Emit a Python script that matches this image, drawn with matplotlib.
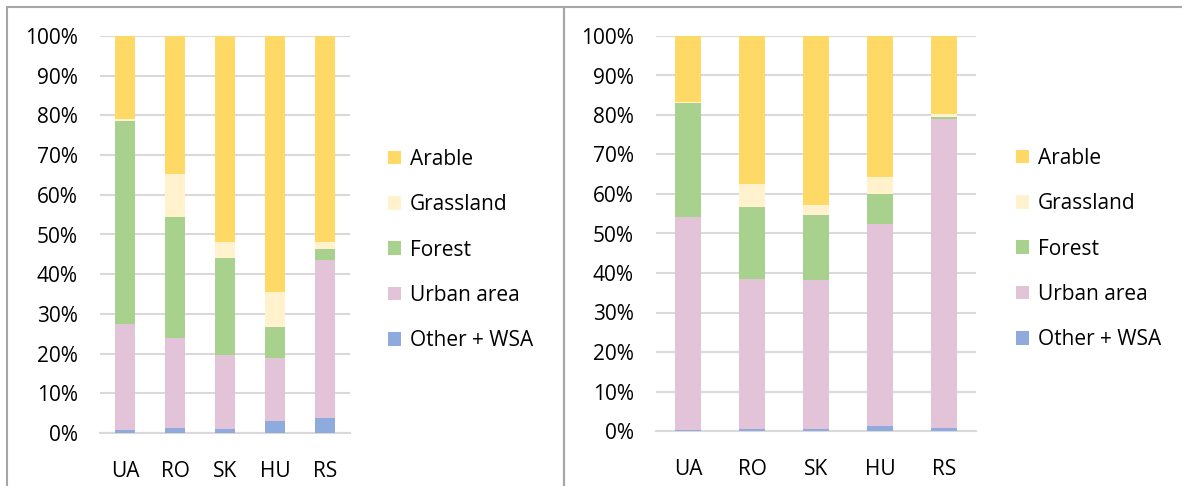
import numpy as np
import matplotlib
matplotlib.use("Agg")
import matplotlib.pyplot as plt
from matplotlib.patches import Rectangle
from matplotlib.ticker import FuncFormatter

plt.rcParams['font.family'] = ['Open Sans', 'DejaVu Sans']

COUNTRIES = ["UA", "RO", "SK", "HU", "RS"]
LAYERS = ["Other + WSA", "Urban area", "Forest", "Grassland", "Arable"]
COLORS = ["#8FAADC", "#E2C3D7", "#A9D18E", "#FFF2CC", "#FFD966"]

# left panel, share of each layer (%), bottom to top
left_other = [0.7, 1.3, 0.9, 2.9, 3.8]
left_urban = [26.7, 22.6, 18.7, 16.0, 39.8]
left_forest = [51.1, 30.5, 24.4, 7.8, 2.8]
left_grass = [0.5, 10.8, 4.1, 8.8, 1.7]
left_arable = [21.0, 34.8, 51.9, 64.5, 51.9]

# right panel
right_other = [0.3, 0.5, 0.5, 1.3, 0.8]
right_urban = [53.9, 37.9, 37.7, 51.2, 78.1]
right_forest = [28.8, 18.2, 16.5, 7.6, 0.7]
right_grass = [0.4, 5.9, 2.5, 4.1, 0.7]
right_arable = [16.6, 37.5, 42.8, 35.8, 19.7]


def to_percent(y, position):
	return "%d%%" % int(round(y))


def draw_panel(ax, series, width):
	ind = np.arange(len(COUNTRIES))
	bottom = np.zeros(len(COUNTRIES))
	rects = []
	for vals, color in zip(series, COLORS):
		r = ax.bar(ind, vals, width, bottom=bottom, color=color, zorder=3)
		rects.append(r)
		bottom += np.array(vals)
	ax.set_ylim(0, 100)
	ax.set_xlim(-0.5, len(COUNTRIES) - 0.5)
	ax.set_yticks(np.arange(0, 101, 10))
	ax.yaxis.set_major_formatter(FuncFormatter(to_percent))
	ax.set_xticks(ind)
	ax.set_xticklabels(COUNTRIES)
	ax.yaxis.grid(True, color="#D9D9D9", linewidth=1.5, zorder=0)
	for s in ["top", "right", "left"]:
		ax.spines[s].set_visible(False)
	ax.spines["bottom"].set_color("#D9D9D9")
	ax.spines["bottom"].set_linewidth(1.5)
	ax.tick_params(axis="both", length=0, labelsize=15, colors="black")
	ax.tick_params(axis="x", pad=20)
	ax.tick_params(axis="y", pad=16)
	return rects


fig = plt.figure(figsize=(11.82, 4.86), dpi=100)
W, H = 1182.0, 486.0

# panel frames
fig.patches.append(Rectangle((7 / W, -0.1), (564 - 7) / W, (486 - 7) / H + 0.1,
	transform=fig.transFigure, fill=False, edgecolor="#A6A6A6", linewidth=1.5))
fig.patches.append(Rectangle((564 / W, -0.1), 0.6, (486 - 7) / H + 0.1,
	transform=fig.transFigure, fill=False, edgecolor="#A6A6A6", linewidth=1.5))

ax1 = fig.add_axes([100 / W, (H - 433) / H, 250 / W, 397 / H])
ax2 = fig.add_axes([656 / W, (H - 431) / H, 320 / W, 395 / H])

r1 = draw_panel(ax1, [left_other, left_urban, left_forest, left_grass, left_arable], 0.39)
r2 = draw_panel(ax2, [right_other, right_urban, right_forest, right_grass, right_arable], 0.4)

for ax, rects, x0, yc in [(ax1, r1, 369 / W, 250), (ax2, r2, 997 / W, 249)]:
	fig.legend(rects[::-1], LAYERS[::-1], loc="center left",
		bbox_to_anchor=(x0, (H - yc) / H), frameon=False, fontsize=15,
		handlelength=0.62, handleheight=0.62, handletextpad=0.45, labelspacing=1.17)

fig.savefig("out.png", dpi=100)
plt.close()
